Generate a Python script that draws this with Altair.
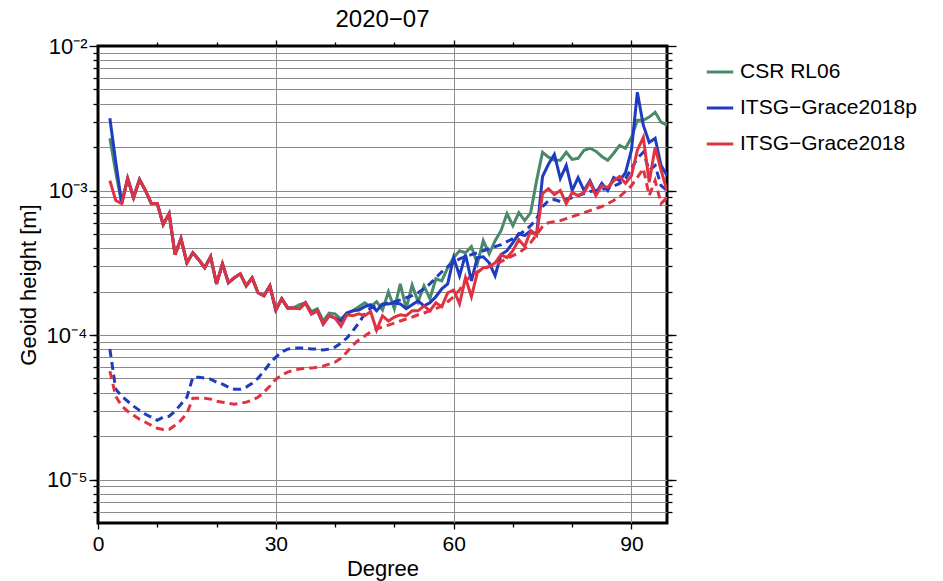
import altair as alt
import pandas as pd

FONT = "Liberation Sans"

DEGREES = list(range(2, 97))
SERIES = ["CSR RL06", "ITSG−Grace2018p", "ITSG−Grace2018"]
COLORS = ["#4a8a6b", "#1f3cc0", "#e03342"]

# solid curves (signal), degrees 2..96
CSR_RL06 = [
    2.30e-3, 1.33e-3, 8.12e-4, 1.21e-3, 8.94e-4, 1.19e-3, 1.00e-3, 8.12e-4, 8.12e-4, 5.81e-4,
    6.92e-4, 3.60e-4, 4.64e-4, 3.16e-4, 3.71e-4, 3.32e-4, 2.92e-4, 3.48e-4, 2.26e-4, 3.11e-4,
    2.30e-4, 2.49e-4, 2.65e-4, 2.19e-4, 2.49e-4, 1.96e-4, 1.87e-4, 2.19e-4, 1.49e-4, 1.78e-4,
    1.54e-4, 1.54e-4, 1.62e-4, 1.67e-4, 1.45e-4, 1.52e-4, 1.25e-4, 1.42e-4, 1.40e-4, 1.29e-4,
    1.42e-4, 1.47e-4, 1.57e-4, 1.67e-4, 1.57e-4, 1.70e-4, 1.49e-4, 1.99e-4, 1.52e-4, 2.26e-4,
    1.52e-4, 2.22e-4, 1.70e-4, 2.19e-4, 1.78e-4, 2.45e-4, 2.37e-4, 2.92e-4, 3.43e-4, 3.83e-4,
    3.71e-4, 4.09e-4, 3.11e-4, 4.50e-4, 3.65e-4, 4.50e-4, 5.27e-4, 6.92e-4, 5.71e-4, 7.03e-4,
    6.19e-4, 7.03e-4, 1.17e-3, 1.84e-3, 1.70e-3, 1.62e-3, 1.62e-3, 1.84e-3, 1.64e-3, 1.67e-3,
    1.90e-3, 1.96e-3, 1.87e-3, 1.72e-3, 1.62e-3, 1.81e-3, 2.05e-3, 1.96e-3, 2.33e-3, 3.06e-3,
    3.06e-3, 3.22e-3, 3.48e-3, 2.97e-3, 2.83e-3,
]
ITSG_2018P = [
    3.16e-3, 1.57e-3, 8.12e-4, 1.21e-3, 8.94e-4, 1.19e-3, 1.00e-3, 8.12e-4, 8.12e-4, 5.81e-4,
    6.92e-4, 3.60e-4, 4.64e-4, 3.16e-4, 3.71e-4, 3.32e-4, 2.92e-4, 3.48e-4, 2.26e-4, 3.11e-4,
    2.30e-4, 2.49e-4, 2.65e-4, 2.19e-4, 2.49e-4, 1.96e-4, 1.87e-4, 2.19e-4, 1.49e-4, 1.78e-4,
    1.54e-4, 1.54e-4, 1.52e-4, 1.67e-4, 1.40e-4, 1.47e-4, 1.19e-4, 1.36e-4, 1.31e-4, 1.25e-4,
    1.42e-4, 1.47e-4, 1.49e-4, 1.57e-4, 1.62e-4, 1.47e-4, 1.64e-4, 1.64e-4, 1.67e-4, 1.64e-4,
    1.52e-4, 1.62e-4, 1.72e-4, 1.59e-4, 1.67e-4, 1.84e-4, 2.09e-4, 2.26e-4, 3.43e-4, 2.57e-4,
    3.60e-4, 2.37e-4, 3.43e-4, 3.48e-4, 3.16e-4, 2.57e-4, 3.60e-4, 3.83e-4, 4.36e-4, 5.03e-4,
    4.87e-4, 5.27e-4, 4.95e-4, 1.25e-3, 1.52e-3, 1.78e-3, 1.21e-3, 1.49e-3, 1.00e-3, 1.23e-3,
    1.00e-3, 1.17e-3, 9.53e-4, 1.12e-3, 1.00e-3, 1.23e-3, 1.17e-3, 1.33e-3, 1.90e-3, 4.79e-3,
    2.83e-3, 2.15e-3, 2.30e-3, 1.49e-3, 1.27e-3,
]
ITSG_2018 = [
    1.17e-3, 8.52e-4, 8.12e-4, 1.21e-3, 8.94e-4, 1.19e-3, 1.00e-3, 8.12e-4, 8.12e-4, 5.81e-4,
    6.92e-4, 3.60e-4, 4.64e-4, 3.16e-4, 3.71e-4, 3.32e-4, 2.92e-4, 3.48e-4, 2.26e-4, 3.11e-4,
    2.30e-4, 2.49e-4, 2.65e-4, 2.19e-4, 2.49e-4, 1.96e-4, 1.87e-4, 2.19e-4, 1.49e-4, 1.78e-4,
    1.54e-4, 1.54e-4, 1.52e-4, 1.67e-4, 1.40e-4, 1.47e-4, 1.19e-4, 1.36e-4, 1.31e-4, 1.15e-4,
    1.38e-4, 1.36e-4, 1.40e-4, 1.36e-4, 1.45e-4, 1.08e-4, 1.36e-4, 1.25e-4, 1.33e-4, 1.38e-4,
    1.36e-4, 1.47e-4, 1.47e-4, 1.59e-4, 1.47e-4, 1.67e-4, 1.57e-4, 1.96e-4, 2.05e-4, 1.64e-4,
    2.49e-4, 1.84e-4, 2.70e-4, 2.92e-4, 2.97e-4, 3.16e-4, 3.60e-4, 3.43e-4, 3.83e-4, 4.57e-4,
    4.09e-4, 5.27e-4, 4.87e-4, 9.53e-4, 1.03e-3, 9.38e-4, 1.00e-3, 8.12e-4, 9.68e-4, 9.23e-4,
    9.68e-4, 1.14e-3, 9.23e-4, 1.08e-3, 1.05e-3, 1.17e-3, 1.25e-3, 1.12e-3, 1.27e-3, 1.90e-3,
    2.33e-3, 1.14e-3, 1.99e-3, 1.38e-3, 1.00e-3,
]
# dashed curves (error estimates), degrees 2..96
ITSG_2018P_ERR = [
    7.99e-5, 4.22e-5, 3.77e-5, 3.48e-5, 3.22e-5, 3.01e-5, 2.83e-5, 2.70e-5, 2.57e-5, 2.70e-5,
    2.74e-5, 2.97e-5, 3.32e-5, 3.71e-5, 5.11e-5, 5.11e-5, 5.03e-5, 4.95e-5, 4.72e-5, 4.57e-5,
    4.36e-5, 4.22e-5, 4.22e-5, 4.36e-5, 4.64e-5, 5.03e-5, 5.62e-5, 6.39e-5, 7.03e-5, 7.62e-5,
    7.99e-5, 8.12e-5, 8.12e-5, 8.12e-5, 7.99e-5, 7.99e-5, 7.87e-5, 7.99e-5, 8.25e-5, 8.80e-5,
    9.53e-5, 1.07e-4, 1.21e-4, 1.40e-4, 1.54e-4, 1.59e-4, 1.62e-4, 1.67e-4, 1.70e-4, 1.75e-4,
    1.81e-4, 1.87e-4, 1.96e-4, 2.09e-4, 2.26e-4, 2.49e-4, 2.74e-4, 2.97e-4, 3.16e-4, 3.37e-4,
    3.48e-4, 3.60e-4, 3.71e-4, 3.83e-4, 3.96e-4, 4.09e-4, 4.22e-4, 4.43e-4, 4.64e-4, 4.95e-4,
    5.27e-4, 5.71e-4, 6.39e-4, 7.74e-4, 8.52e-4, 8.66e-4, 8.39e-4, 8.66e-4, 8.94e-4, 9.23e-4,
    9.53e-4, 9.84e-4, 1.00e-3, 1.02e-3, 1.03e-3, 1.07e-3, 1.12e-3, 1.21e-3, 1.42e-3, 1.67e-3,
    1.84e-3, 1.38e-3, 1.49e-3, 1.08e-3, 1.00e-3,
]
ITSG_2018_ERR = [
    5.62e-5, 3.77e-5, 3.22e-5, 2.97e-5, 2.78e-5, 2.61e-5, 2.49e-5, 2.37e-5, 2.26e-5, 2.22e-5,
    2.22e-5, 2.37e-5, 2.57e-5, 2.87e-5, 3.65e-5, 3.65e-5, 3.65e-5, 3.60e-5, 3.48e-5, 3.43e-5,
    3.37e-5, 3.32e-5, 3.37e-5, 3.43e-5, 3.54e-5, 3.71e-5, 4.02e-5, 4.43e-5, 4.95e-5, 5.27e-5,
    5.54e-5, 5.71e-5, 5.81e-5, 5.90e-5, 5.90e-5, 5.99e-5, 6.09e-5, 6.29e-5, 6.49e-5, 6.92e-5,
    7.62e-5, 8.52e-5, 9.23e-5, 9.84e-5, 1.05e-4, 1.10e-4, 1.14e-4, 1.17e-4, 1.21e-4, 1.25e-4,
    1.29e-4, 1.33e-4, 1.38e-4, 1.42e-4, 1.47e-4, 1.52e-4, 1.59e-4, 1.70e-4, 1.84e-4, 2.05e-4,
    2.37e-4, 2.57e-4, 2.74e-4, 2.87e-4, 2.97e-4, 3.06e-4, 3.22e-4, 3.37e-4, 3.54e-4, 3.71e-4,
    3.96e-4, 4.36e-4, 4.95e-4, 5.62e-4, 5.99e-4, 6.09e-4, 6.19e-4, 6.39e-4, 6.60e-4, 6.81e-4,
    7.03e-4, 7.26e-4, 7.50e-4, 7.74e-4, 8.12e-4, 8.52e-4, 9.08e-4, 9.84e-4, 1.08e-3, 1.23e-3,
    1.42e-3, 9.23e-4, 1.17e-3, 8.12e-4, 8.94e-4,
]

Y_DECADES = [1e-5, 1e-4, 1e-3, 1e-2]
Y_GRID = [6e-6, 7e-6, 8e-6, 9e-6,
          1e-5, 2e-5, 3e-5, 4e-5, 5e-5, 6e-5, 7e-5, 8e-5, 9e-5,
          1e-4, 2e-4, 3e-4, 4e-4, 5e-4, 6e-4, 7e-4, 8e-4, 9e-4,
          1e-3, 2e-3, 3e-3, 4e-3, 5e-3, 6e-3, 7e-3, 8e-3, 9e-3]
X_MAJOR = [0, 30, 60, 90]
X_GRID = [30, 60, 90]
X_MINOR = [10, 20, 40, 50, 70, 80]
Y_DOMAIN = [5e-6, 1e-2]
X_DOMAIN = [0, 96]

rows = []
for name, kind, vals in [
    (SERIES[0], "signal", CSR_RL06),
    (SERIES[1], "signal", ITSG_2018P),
    (SERIES[2], "signal", ITSG_2018),
    (SERIES[1], "error", ITSG_2018P_ERR),
    (SERIES[2], "error", ITSG_2018_ERR),
]:
    for d, v in zip(DEGREES, vals):
        rows.append({"degree": d, "value": v, "series": name, "kind": kind})
df = pd.DataFrame(rows)

W, H = 569, 477
PAD = {"left": 98, "top": 46, "right": 943 - 98 - W, "bottom": 581 - 46 - H}

xs = alt.Scale(domain=X_DOMAIN, nice=False, zero=False)
ys = alt.Scale(type="log", domain=Y_DOMAIN, nice=False)

legend = alt.Legend(
    title=None, orient="none", legendX=607, legendY=11,
    symbolType="stroke", symbolSize=700, symbolStrokeWidth=3,
    labelFontSize=21, labelFont=FONT, labelColor="black", labelOffset=5,
    labelLimit=400, rowPadding=11, padding=0,
)
color = alt.Color("series:N", scale=alt.Scale(domain=SERIES, range=COLORS), legend=legend)

LBL = ("round(log(datum.value)/LN10) == -2 ? '10⁻²' : "
       "round(log(datum.value)/LN10) == -3 ? '10⁻³' : "
       "round(log(datum.value)/LN10) == -4 ? '10⁻⁴' : '10⁻⁵'")

ax_x_bottom_major = alt.Axis(orient="bottom", values=X_MAJOR, tickSize=6, grid=False, domain=False,
                             labelFontSize=21, labelPadding=4, labelFlush=False,
                             title="Degree", titleFontSize=22, titleX=W / 2, titleY=45,
                             titleBaseline="middle", titleAlign="center")
ax_x_bottom_minor = alt.Axis(orient="bottom", values=X_MINOR, tickSize=4, grid=False, domain=False,
                             labels=False, title=None)
ax_x_top_major = alt.Axis(orient="top", values=X_GRID, tickSize=6, grid=True, domain=False,
                          labels=False, title=None)
ax_x_top_minor = alt.Axis(orient="top", values=X_MINOR, tickSize=4, grid=False, domain=False,
                          labels=False, title=None)
ax_y_left_major = alt.Axis(orient="left", values=Y_DECADES, tickSize=9, grid=False, domain=False,
                           labelExpr=LBL, labelFontSize=22, labelPadding=2, labelFlush=False,
                           labelOverlap=False,
                           title="Geoid height [m]", titleFontSize=22, titleX=-70, titleY=H / 2,
                           titleBaseline="middle", titleAlign="center")
ax_y_left_minor = alt.Axis(orient="left", values=Y_GRID, tickSize=5, grid=True, domain=False,
                           labels=False, title=None)
ax_y_right_major = alt.Axis(orient="right", values=Y_DECADES, tickSize=9, grid=False, domain=False,
                            labels=False, title=None)
ax_y_right_minor = alt.Axis(orient="right", values=Y_GRID, tickSize=5, grid=False, domain=False,
                            labels=False, title=None)

base = alt.Chart(df)


def layer(series, kind, xaxis, yaxis, dashed=False):
    mark_kw = {"strokeWidth": 3, "clip": True}
    if dashed:
        mark_kw["strokeDash"] = [8, 5]
    return (
        base.transform_filter((alt.datum.series == series) & (alt.datum.kind == kind))
        .mark_line(**mark_kw)
        .encode(
            x=alt.X("degree:Q", scale=xs, axis=xaxis),
            y=alt.Y("value:Q", scale=ys, axis=yaxis),
            color=color,
        )
    )


chart = (
    alt.layer(
        layer(SERIES[0], "signal", ax_x_bottom_major, ax_y_left_major),
        layer(SERIES[1], "signal", ax_x_bottom_minor, ax_y_left_minor),
        layer(SERIES[1], "error", ax_x_top_major, ax_y_right_major, dashed=True),
        layer(SERIES[2], "signal", ax_x_top_minor, ax_y_right_minor),
        layer(SERIES[2], "error", None, None, dashed=True),
    )
    .resolve_axis(x="independent", y="independent")
    .properties(
        width=W, height=H,
        title="2020−07",
        autosize=alt.AutoSizeParams(type="none"),
        padding=PAD,
    )
    .configure_view(stroke="black", strokeWidth=3)
    .configure_axis(
        labelFont=FONT, titleFont=FONT, labelColor="black", titleColor="black",
        tickColor="black", tickWidth=1.3, gridColor="#8c8c8c", gridWidth=1,
        titleFontWeight="normal",
    )
    .configure_title(font=FONT, fontSize=24, fontWeight="normal", color="black", offset=3)
)

chart.save("out.html", embed_options={"renderer": "svg", "actions": False})
